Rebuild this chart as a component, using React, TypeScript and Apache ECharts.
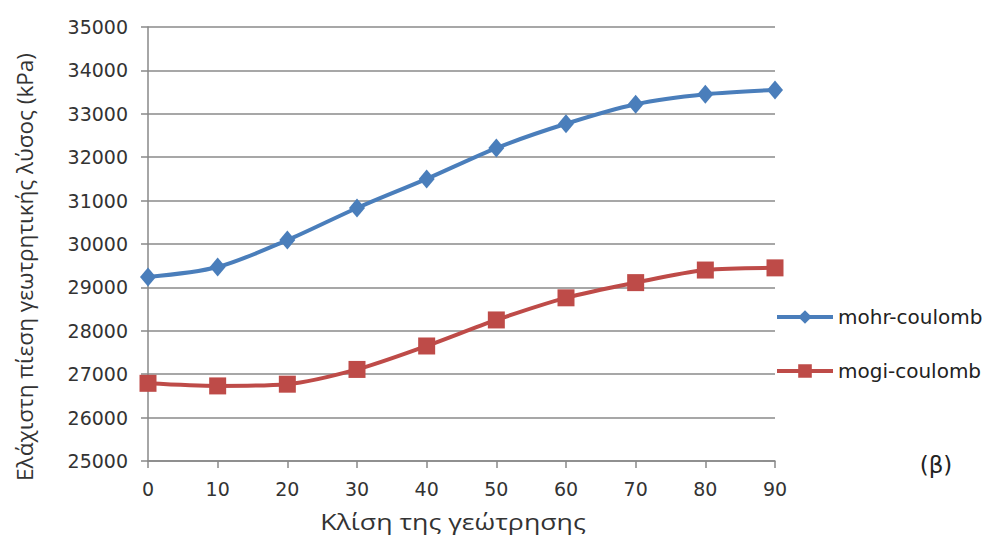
import React, { useEffect, useRef } from "react";
import * as echarts from "echarts";

const angles = [0, 10, 20, 30, 40, 50, 60, 70, 80, 90];
const mohrCoulomb = [29240, 29470, 30090, 30830, 31500, 32210, 32770, 33220, 33450, 33550];
const mogiCoulomb = [26790, 26730, 26770, 27110, 27650, 28250, 28760, 29110, 29400, 29450];
const yTicks = { min: 25000, max: 35000, step: 1000 };
const seriesNames = ["mohr-coulomb", "mogi-coulomb"];
const xTitle = "Κλίση της γεώτρησης";
const yTitle = "Ελάχιστη πίεση γεωτρητικής λύσος (kPa)";
const panelLabel = "(β)";

const FONT = "'DejaVu Sans', sans-serif";
const NAME_FONT = "'Open Sans', 'DejaVu Sans', sans-serif";

export default function App() {
  const ref = useRef<HTMLDivElement>(null);
  useEffect(() => {
    const chart = echarts.init(ref.current!, null, { renderer: "svg" });
    chart.setOption({
      animation: false,
      backgroundColor: "#ffffff",
      grid: { left: 140, right: 214, top: 19, bottom: 77, containLabel: false },
      xAxis: {
        type: "category",
        data: angles.map(String),
        boundaryGap: false,
        axisLine: { lineStyle: { color: "#888", width: 1.5 } },
        axisTick: { show: true, alignWithLabel: true, length: 7, lineStyle: { color: "#888", width: 1.5 } },
        axisLabel: { fontFamily: FONT, fontSize: 19, color: "#333", margin: 18 },
        splitLine: { show: false },
      },
      yAxis: {
        type: "value",
        min: yTicks.min,
        max: yTicks.max,
        interval: yTicks.step,
        axisLine: { show: true, lineStyle: { color: "#888", width: 1.5 } },
        axisTick: { show: true, length: 7, lineStyle: { color: "#888", width: 1.5 } },
        axisLabel: {
          fontFamily: FONT,
          fontSize: 19,
          color: "#333",
          margin: 20,
          formatter: (v: number) => String(v),
        },
        splitLine: { show: true, lineStyle: { color: "#8a8a8a", width: 1.5 } },
      },
      legend: {
        orient: "vertical",
        left: 767,
        top: 299,
        padding: 0,
        itemGap: 34,
        itemWidth: 56,
        itemHeight: 17,
        lineStyle: { width: 4 },
        textStyle: { fontFamily: FONT, fontSize: 20, color: "#222" },
        data: seriesNames,
      },
      graphic: [
        {
          type: "text",
          x: 445,
          y: 514,
          scaleX: 1.27,
          style: {
            text: xTitle,
            fontFamily: NAME_FONT,
            fontSize: 21,
            fill: "#333",
            align: "center",
            verticalAlign: "middle",
          },
        },
        {
          type: "text",
          x: 16,
          y: 259,
          rotation: Math.PI / 2,
          style: {
            text: yTitle,
            fontFamily: NAME_FONT,
            fontSize: 22.5,
            fill: "#333",
            align: "center",
            verticalAlign: "middle",
          },
        },
        {
          type: "text",
          x: 928,
          y: 457,
          style: {
            text: panelLabel,
            fontFamily: FONT,
            fontSize: 23,
            fill: "#222",
            align: "center",
            verticalAlign: "middle",
          },
        },
      ],
      series: [
        {
          name: seriesNames[0],
          type: "line",
          data: mohrCoulomb,
          smooth: 0.3,
          symbol: "diamond",
          symbolSize: [16, 19],
          lineStyle: { color: "#4A7EBB", width: 4 },
          itemStyle: { color: "#4A7EBB" },
        },
        {
          name: seriesNames[1],
          type: "line",
          data: mogiCoulomb,
          smooth: 0.3,
          symbol: "rect",
          symbolSize: 17,
          lineStyle: { color: "#BE4B48", width: 4 },
          itemStyle: { color: "#BE4B48" },
        },
      ],
    });
    return () => chart.dispose();
  }, []);
  return <div ref={ref} style={{ width: 981, height: 530 }} />;
}
